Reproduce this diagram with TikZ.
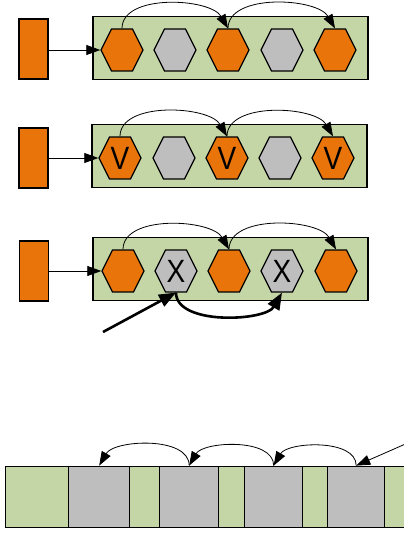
\documentclass[tikz,border=0pt]{standalone}
\usepackage{fontspec}
\setmainfont{Liberation Sans}
\usetikzlibrary{arrows.meta,positioning,shapes.geometric}
\definecolor{hot}{HTML}{E8740A}
\definecolor{cold}{HTML}{BEBEBE}
\definecolor{bed}{HTML}{C4D6A6}

\begin{document}
\begin{tikzpicture}[x=1pt,y=1pt,>={Triangle[length=14pt,width=10pt]},
  hexa/.style={regular polygon,regular polygon sides=6,minimum size=42pt,inner sep=0pt,
    yscale=1.15,transform shape,draw=black,line width=1.2pt,
    font=\fontsize{28}{28}\selectfont},
  tray/.style={draw=black,line width=1.5pt,fill=bed,minimum width=275pt,minimum height=63pt},
  feeder/.style={draw=black,line width=1.5pt,fill=hot,minimum width=29pt,minimum height=60pt},
  cell/.style={draw=black,line width=1.4pt,anchor=south west,minimum height=61pt,inner sep=0pt},
  hop/.style={->,line width=0.8pt},
  fat/.style={-{Triangle[length=17pt,width=13pt]},line width=2.6pt}]

\useasboundingbox (0,0) rectangle (404,539);
\clip (0,0) rectangle (404,539);

% ---------- row 1: plain ----------
\begin{scope}[yshift=489pt]
  \node[tray] (tray1) at (230.5,2) {};
  \node[feeder] (src1) at (33.5,1) {};
  \foreach \i/\x/\c in {1/122/hot,2/175/cold,3/228/hot,4/282/cold,5/335/hot}
    \node[hexa,fill=\c] (h1\i) at (\x,0) {};
  \draw[hop] (src1.east |- h11.west) -- (h11.west);
  \draw[hop] (h11.north) to[out=90,in=120,looseness=0.85] (h13.north);
  \draw[hop] (h13.north) to[out=90,in=120,looseness=0.85] (h15.north);
\end{scope}

% ---------- row 2: marked V ----------
\begin{scope}[yshift=381pt]
  \node[tray] (tray2) at (229.5,2) {};
  \node[feeder] (src2) at (33.5,0) {};
  \foreach \i/\x/\c/\t in {1/120/hot/V,2/174/cold/{},3/227/hot/V,4/280/cold/{},5/333/hot/V}
    \node[hexa,fill=\c] (h2\i) at (\x,0) {\t};
  \draw[hop] (src2.east |- h21.west) -- (h21.west);
  \draw[hop] (h21.north) to[out=90,in=120,looseness=0.85] (h23.north);
  \draw[hop] (h23.north) to[out=90,in=120,looseness=0.85] (h25.north);
\end{scope}

% ---------- row 3: marked X, with the push ----------
\begin{scope}[yshift=268pt]
  \node[tray] (tray3) at (230.5,2) {};
  \node[feeder] (src3) at (34,0) {};
  \foreach \i/\x/\c/\t in {1/123/hot/{},2/176/cold/X,3/229/hot/{},4/282/cold/X,5/336/hot/{}}
    \node[hexa,fill=\c] (h3\i) at (\x,0) {\t};
  \draw[hop] (src3.east |- h31.west) -- (h31.west);
  \draw[hop] (h31.north) to[out=90,in=120,looseness=0.85] (h33.north);
  \draw[hop] (h33.north) to[out=90,in=120,looseness=0.85] (h35.north);
  \coordinate (push) at (103,-61);
  \draw[fat] (push) -- (h32.south);
  \draw[fat] (h32.south) to[out=-90,in=-120,looseness=0.8] (h34.south);
\end{scope}

% ---------- bottom strip ----------
\foreach \i/\x/\w/\c in {1/5/63/bed,2/68/61/cold,3/129/30/bed,4/159/59/cold,5/218/26/bed,
    6/244/58/cold,7/302/25/bed,8/327/57/cold,9/384/30/bed}
  \node[cell,fill=\c,minimum width=\w pt] (c\i) at (\x,11) {};
\draw[hop] (c4.north) to[out=90,in=60,looseness=0.85] (c2.north);
\draw[hop] (c6.north) to[out=90,in=60,looseness=0.85] (c4.north);
\draw[hop] (c8.north) to[out=90,in=60,looseness=0.85] (c6.north);
\coordinate (feed) at (410,97);
\draw[hop] (feed) -- (c8.north);
\end{tikzpicture}
\end{document}
